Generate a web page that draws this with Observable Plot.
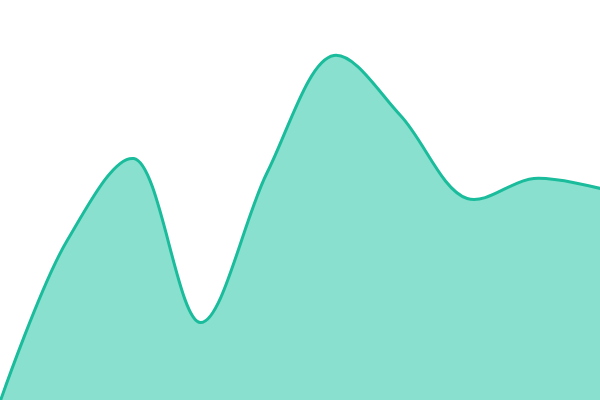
<!DOCTYPE html>
<html>
<head>
<meta charset="utf-8">
<script src="https://cdn.jsdelivr.net/npm/d3@7"></script>
<script src="https://cdn.jsdelivr.net/npm/@observablehq/plot@0.6"></script>
<style>
  html, body { margin: 0; padding: 0; background: #fff; overflow: hidden; }
  svg { display: block; }
</style>
</head>
<body>
<div id="chart"></div>
<script>
const xs = [0, 1, 2, 3, 4, 5, 6, 7, 8, 9];
const values = [0, 160, 242, 78, 228, 345, 285, 202, 222, 212];
const data = xs.map((x, i) => ({x, v: values[i]}));

const chart = Plot.plot({
  width: 600,
  height: 400,
  margin: 0,
  x: {domain: [0, 9], axis: null},
  y: {domain: [0, 400], axis: null},
  marks: [
    Plot.areaY(data, {x: "x", y: "v", curve: "catmull-rom", fill: "#89e0cf"}),
    Plot.lineY(data, {x: "x", y: "v", curve: "catmull-rom", stroke: "#1abc9c", strokeWidth: 3})
  ]
});
document.getElementById("chart").append(chart);
</script>
</body>
</html>
